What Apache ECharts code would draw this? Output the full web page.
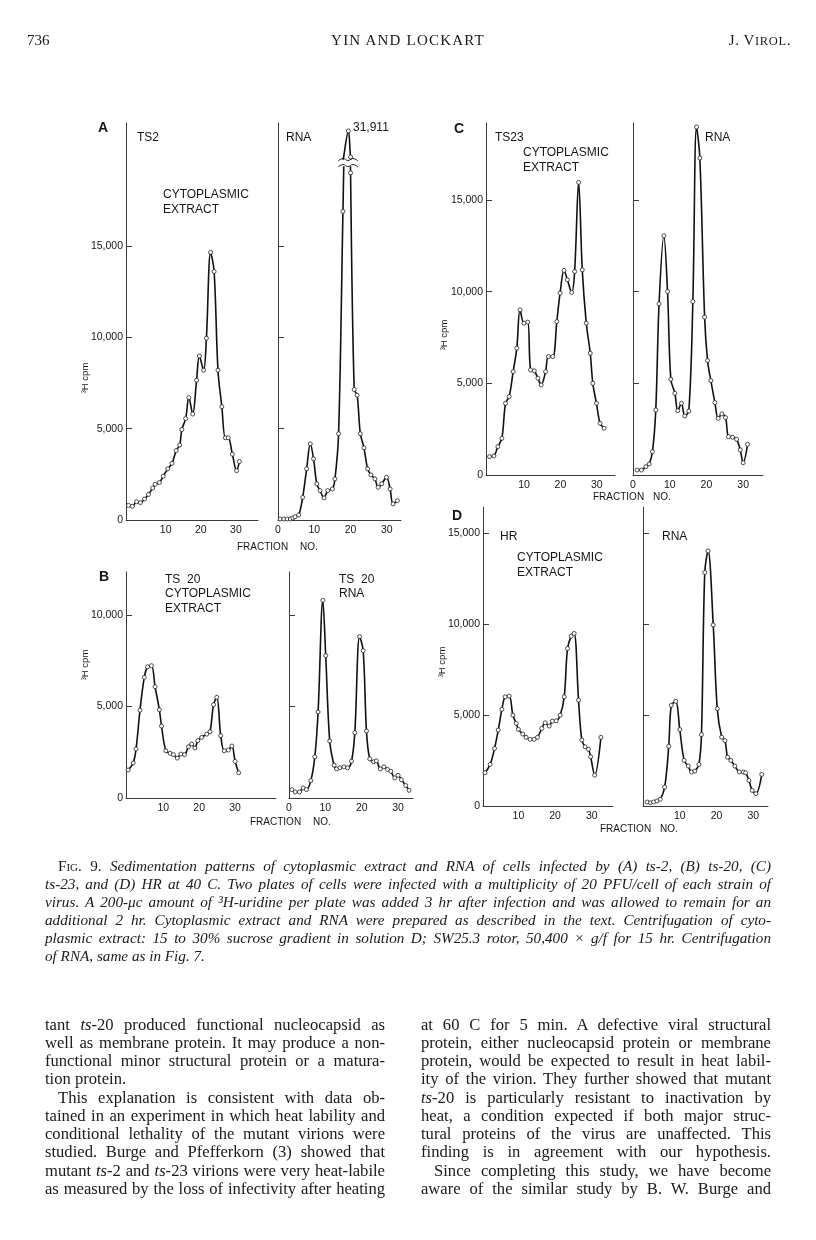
<!DOCTYPE html>
<html>
<head>
<meta charset="utf-8">
<title>Fig. 9 sedimentation patterns</title>
<script src="https://cdn.jsdelivr.net/npm/echarts@6/dist/echarts.min.js"></script>
<style>
  html, body { margin: 0; padding: 0; background: #fff; overflow: hidden; }
  #page { position: relative; width: 816px; height: 1240px; }
  #chart { position: absolute; left: 0; top: 0; width: 816px; height: 1240px; }
  .ln { position: absolute; height: 18px; line-height: 18px; white-space: nowrap;
        font-family: 'Liberation Serif', 'Times New Roman', serif; color: #1a1a1a; }
  .j { text-align: justify; text-align-last: justify; }
  .cap { font-size: 15.2px; font-style: italic; }
  .body { font-size: 16.6px; }
  .hd { font-size: 15px; }
  .sc { font-style: normal; font-variant: small-caps; }
</style>
</head>
<body>
<div id="page">
  <div id="chart"></div>

  <!-- running head -->
  <div class="ln hd" style="left:27px;top:31px;">736</div>
  <div class="ln hd" style="left:325px;top:31px;width:166px;text-align:center;letter-spacing:1.2px;">YIN AND LOCKART</div>
  <div class="ln hd" style="left:700px;top:31px;width:91px;text-align:right;letter-spacing:0.6px;">J. V<span style="font-size:12.5px">IROL</span>.</div>

  <!-- legend -->
  <div class="ln cap j" style="left:58px;top:857px;width:713px;"><span class="sc">Fig. 9.</span> Sedimentation patterns of cytoplasmic extract and RNA of cells infected by (A) ts-2, (B) ts-20, (C)</div>
  <div class="ln cap j" style="left:45px;top:875px;width:726px;">ts-23, and (D) HR at 40 C. Two plates of cells were infected with a multiplicity of 20 PFU/cell of each strain of</div>
  <div class="ln cap j" style="left:45px;top:893px;width:726px;">virus. A 200-μc amount of ³H-uridine per plate was added 3 hr after infection and was allowed to remain for an</div>
  <div class="ln cap j" style="left:45px;top:911px;width:726px;">additional 2 hr. Cytoplasmic extract and RNA were prepared as described in the text. Centrifugation of cyto-</div>
  <div class="ln cap j" style="left:45px;top:929px;width:726px;">plasmic extract: 15 to 30% sucrose gradient in solution D; SW25.3 rotor, 50,400 × g/f for 15 hr. Centrifugation</div>
  <div class="ln cap" style="left:45px;top:947px;">of RNA, same as in Fig. 7.</div>

  <!-- text, left column -->
  <div class="ln body j" style="left:45px;top:1016px;width:340px;">tant <i>ts</i>-20 produced functional nucleocapsid as</div>
  <div class="ln body j" style="left:45px;top:1034px;width:340px;">well as membrane protein. It may produce a non-</div>
  <div class="ln body j" style="left:45px;top:1052px;width:340px;">functional minor structural protein or a matura-</div>
  <div class="ln body" style="left:45px;top:1070px;">tion protein.</div>
  <div class="ln body j" style="left:58px;top:1089px;width:327px;">This explanation is consistent with data ob-</div>
  <div class="ln body j" style="left:45px;top:1107px;width:340px;">tained in an experiment in which heat lability and</div>
  <div class="ln body j" style="left:45px;top:1125px;width:340px;">conditional lethality of the mutant virions were</div>
  <div class="ln body j" style="left:45px;top:1143px;width:340px;">studied. Burge and Pfefferkorn (3) showed that</div>
  <div class="ln body j" style="left:45px;top:1162px;width:340px;">mutant <i>ts</i>-2 and <i>ts</i>-23 virions were very heat-labile</div>
  <div class="ln body j" style="left:45px;top:1180px;width:340px;">as measured by the loss of infectivity after heating</div>

  <!-- text, right column -->
  <div class="ln body j" style="left:421px;top:1016px;width:350px;">at 60 C for 5 min. A defective viral structural</div>
  <div class="ln body j" style="left:421px;top:1034px;width:350px;">protein, either nucleocapsid protein or membrane</div>
  <div class="ln body j" style="left:421px;top:1052px;width:350px;">protein, would be expected to result in heat labil-</div>
  <div class="ln body j" style="left:421px;top:1070px;width:350px;">ity of the virion. They further showed that mutant</div>
  <div class="ln body j" style="left:421px;top:1089px;width:350px;"><i>ts</i>-20 is particularly resistant to inactivation by</div>
  <div class="ln body j" style="left:421px;top:1107px;width:350px;">heat, a condition expected if both major struc-</div>
  <div class="ln body j" style="left:421px;top:1125px;width:350px;">tural proteins of the virus are unaffected. This</div>
  <div class="ln body j" style="left:421px;top:1143px;width:350px;">finding is in agreement with our hypothesis.</div>
  <div class="ln body j" style="left:434px;top:1162px;width:337px;">Since completing this study, we have become</div>
  <div class="ln body j" style="left:421px;top:1180px;width:350px;">aware of the similar study by B. W. Burge and</div>
</div>

<script>
// ---- data: [fraction no., 3H cpm] ----
// (A) ts-2
var tsTwoCyto = [[-0.6,800],[0.5,750],[1.7,1000],[2.8,950],[4.0,1150],[5.1,1400],[6.3,1750],[7.0,1950],
  [8.2,2050],[9.3,2400],[10.6,2800],[11.8,3100],[13.0,3800],[14.0,4100],[14.6,4950],[15.7,5550],[16.6,6700],
  [17.7,5800],[18.8,7650],[19.6,8970],[20.8,8200],[21.6,9950],[22.8,14650],[23.8,13600],[24.9,8200],
  [26.0,6200],[27.0,4500],[27.8,4500],[29.0,3600],[30.2,2700],[31.0,3200]];
var tsTwoRna = [[0.6,55],[1.6,55],[2.5,55],[3.4,55],[4.1,110],[4.7,180],[5.7,275],[6.8,1240],[7.9,2800],
  [8.9,4170],[9.8,3350],[10.7,1980],[11.6,1610],[12.7,1210],[13.7,1610],[15.0,1700],[15.7,2250],[16.7,4720],
  [17.9,16890],[19.4,31911],[20.0,19000],[21.0,7140],[21.8,6830],[22.7,4720],[23.7,3950],[24.7,2800],
  [25.6,2470],[26.7,2250],[27.6,1790],[28.6,1980],[29.9,2340],[30.9,1700],[31.7,880],[32.9,1060]];
// (B) ts-20
var tsTwentyCyto = [[0.2,1530],[1.6,1910],[2.4,2680],[3.5,4800],[4.7,6590],[5.6,7170],[6.7,7230],[7.7,6080],
  [8.9,4820],[9.5,3930],[10.7,2580],[11.9,2440],[12.8,2370],[13.9,2180],[14.9,2400],[15.9,2370],[17.0,2800],
  [17.9,2950],[18.8,2730],[19.6,3130],[20.7,3310],[22.1,3490],[23.0,3620],[24.0,5100],[24.9,5500],[26.0,3400],
  [27.0,2580],[28.1,2620],[29.1,2840],[30.0,2000],[31.0,1380]];
var tsTwentyRna = [[0.8,460],[1.7,330],[2.9,330],[3.9,550],[4.8,460],[6.0,950],[7.1,2250],[8.0,4700],
  [9.3,10800],[10.1,7780],[11.2,3110],[12.4,1790],[13.1,1590],[14.0,1650],[15.1,1700],[16.1,1650],[17.2,2010],
  [18.1,3570],[19.4,8820],[20.4,8050],[21.3,3660],[22.2,2140],[23.3,1980],[24.0,2030],[25.1,1590],[26.1,1700],
  [27.1,1560],[28.0,1460],[29.1,1100],[30.0,1240],[30.9,1000],[32.1,680],[33.0,420]];
// (C) ts-23
var tsTwentyThreeCyto = [[0.5,1000],[1.7,1040],[2.8,1550],[3.9,2000],[4.9,3910],[5.9,4280],[7.0,5640],
  [8.0,6920],[8.9,9010],[10.0,8280],[11.0,8340],[11.8,5730],[12.8,5680],[13.8,5280],[14.7,4910],[15.9,5640],
  [16.7,6460],[17.9,6460],[19.0,8370],[19.9,9920],[21.0,11160],[21.9,10650],[23.1,9960],[23.9,11100],
  [25.0,15960],[26.0,11190],[27.1,8280],[28.2,6640],[28.9,5000],[29.9,3910],[30.9,2820],[32.0,2550]];
var tsTwentyThreeRna = [[1.1,270],[2.3,270],[3.5,455],[4.4,600],[5.3,1270],[6.2,3550],[7.1,9340],[8.4,13050],
  [9.4,10010],[10.3,5220],[11.4,4460],[12.2,3510],[13.2,3910],[14.1,3220],[15.2,3490],[16.3,9460],[17.3,18980],
  [18.2,17290],[19.5,8610],[20.3,6240],[21.2,5150],[22.3,3950],[23.2,3090],[24.2,3330],[25.2,3130],[26.0,2090],
  [27.1,2060],[28.2,1950],[29.2,1370],[30.0,670],[31.2,1670]];
// (D) HR
var hrCyto = [[0.9,1830],[2.3,2290],[3.5,3170],[4.5,4180],[5.5,5320],[6.4,6010],[7.5,6050],[8.5,5000],
  [9.4,4550],[10.0,4220],[11.2,3960],[12.1,3780],[13.2,3670],[14.3,3670],[15.2,3780],[16.4,4270],[17.3,4580],
  [18.4,4400],[19.3,4670],[20.3,4690],[21.4,5000],[22.5,6010],[23.4,8670],[24.4,9350],[25.2,9500],[26.4,5830],
  [27.3,3630],[28.2,3260],[29.1,3120],[29.7,2710],[30.8,1700],[32.5,3780]];
var hrRna = [[1.1,220],[2.0,180],[2.9,220],[3.8,275],[4.7,370],[5.9,1040],[7.0,3290],[7.7,5540],[8.9,5760],
  [10.0,4210],[11.2,2510],[12.3,2200],[13.2,1870],[14.1,1920],[15.2,2290],[15.9,3930],[16.8,12860],[17.7,14040],
  [19.1,9970],[20.2,5360],[21.4,3790],[22.3,3600],[23.0,2690],[23.9,2510],[25.0,2200],[26.2,1880],[27.3,1870],
  [27.9,1830],[28.8,1410],[29.7,860],[30.7,680],[32.3,1740]];

// tick values
var fracTicks = [10, 20, 30];
var fracTicksZero = [0, 10, 20, 30];
var cpmTicksTall = [0, 5000, 10000, 15000];
var cpmTicksShort = [0, 5000, 10000];
var rnaPeakLabel = '31,911';

// ---- layout (pixels) and axis ranges of every panel ----
var FONT = "'Liberation Sans', Arial, sans-serif";
var INK = '#161616';
var AXIS = '#3a3a3a';

var panels = [
  { l: 126, r: 258, t: 123, b: 520, xmin: -1.3, xmax: 36.3, ymin: 0, ymax: 21730, data: tsTwoCyto,
    xl: fracTicks, yl: cpmTicksTall },
  { l: 278, r: 401, t: 123, b: 520, xmin: 0, xmax: 33.9, ymin: 0, ymax: 21730, data: null,
    xl: fracTicksZero, yt: [5000, 10000, 15000] },
  { l: 126, r: 276, t: 572, b: 798, xmin: -0.4, xmax: 41.4, ymin: 0, ymax: 12350, data: tsTwentyCyto,
    xl: fracTicks, yl: cpmTicksShort },
  { l: 289, r: 413, t: 572, b: 798, xmin: 0, xmax: 34.1, ymin: 0, ymax: 12350, data: tsTwentyRna,
    xl: fracTicksZero, yt: [5000, 10000] },
  { l: 486, r: 615, t: 123, b: 475, xmin: -0.47, xmax: 35.0, ymin: 0, ymax: 19200, data: tsTwentyThreeCyto,
    xl: fracTicks, yl: cpmTicksTall },
  { l: 633, r: 763, t: 123, b: 475, xmin: 0, xmax: 35.4, ymin: 0, ymax: 19200, data: tsTwentyThreeRna,
    xl: fracTicksZero, yt: [5000, 10000, 15000] },
  { l: 483, r: 613, t: 507, b: 806, xmin: 0.35, xmax: 35.8, ymin: 0, ymax: 16460, data: hrCyto,
    xl: fracTicks, yl: cpmTicksTall },
  { l: 643, r: 768, t: 507, b: 806, xmin: 0, xmax: 34.0, ymin: 0, ymax: 16460, data: hrRna,
    xl: fracTicks, yt: [5000, 10000, 15000] },
  // (A) RNA is drawn twice: below the axis break, and the peak top above it
  { l: 278, r: 401, t: 167, b: 520, xmin: 0, xmax: 33.9, ymin: 0, ymax: 19320, data: tsTwoRna, hidden: true },
  { l: 278, r: 401, t: 122, b: 159, xmin: 0, xmax: 33.9, ymin: 18000, ymax: 36380, data: tsTwoRna, hidden: true }
];

function cpmFmt(v) { return v === 0 ? '0' : echarts.format.addCommas(v); }

var grids = [], xAxes = [], yAxes = [], series = [];
panels.forEach(function (p, i) {
  grids.push({ left: p.l, top: p.t, width: p.r - p.l, height: p.b - p.t, containLabel: false });
  xAxes.push({
    gridIndex: i, type: 'value', min: p.xmin, max: p.xmax, show: !p.hidden,
    axisLine: { onZero: false, lineStyle: { color: AXIS, width: 1 } },
    axisTick: { show: false },
    splitLine: { show: false },
    axisLabel: { show: !!p.xl, customValues: p.xl, margin: 5, color: INK, fontFamily: FONT, fontSize: 10.5 }
  });
  yAxes.push({
    gridIndex: i, type: 'value', min: p.ymin, max: p.ymax, show: !p.hidden,
    axisLine: { onZero: false, lineStyle: { color: AXIS, width: 1 } },
    axisTick: { show: true, inside: true, length: 6, customValues: p.yl || p.yt,
                lineStyle: { color: AXIS, width: 1 } },
    splitLine: { show: false },
    axisLabel: { show: !!p.yl, customValues: p.yl, margin: 3, color: INK, fontFamily: FONT, fontSize: 10.5,
                 formatter: cpmFmt }
  });
  if (p.data) {
    series.push({
      type: 'line', xAxisIndex: i, yAxisIndex: i, data: p.data,
      smooth: 0.35, clip: true, symbol: 'circle', symbolSize: 4, showAllSymbol: true,
      lineStyle: { color: '#111', width: 1.6 },
      itemStyle: { color: '#fff', borderColor: '#222', borderWidth: 0.8 },
      emphasis: { disabled: true }, silent: true
    });
  }
});

// ---- lettering inside the figure ----
function label(x, y, text, size, weight, align) {
  return { type: 'text', x: x, y: y, silent: true,
    style: { text: text, fill: INK, font: (weight || 'normal') + ' ' + size + 'px ' + FONT,
             textAlign: align || 'left', textVerticalAlign: 'middle' } };
}
function yName(x, y) {
  var t = label(x, y, '³H cpm', 9.5, 'normal', 'center');
  t.rotation = Math.PI / 2;
  return t;
}
var graphics = [
  label(103, 128, 'A', 14, 'bold', 'center'),
  label(104, 577, 'B', 14, 'bold', 'center'),
  label(459, 129, 'C', 14, 'bold', 'center'),
  label(457, 516, 'D', 14, 'bold', 'center'),

  label(137, 138, 'TS2', 12),
  label(163, 195, 'CYTOPLASMIC', 12),
  label(163, 210, 'EXTRACT', 12),
  label(286, 138, 'RNA', 12),
  label(353, 128, rnaPeakLabel, 12),
  label(237, 547, 'FRACTION', 10), label(300, 547, 'NO.', 10),

  label(165, 580, 'TS  20', 12),
  label(165, 594, 'CYTOPLASMIC', 12),
  label(165, 609, 'EXTRACT', 12),
  label(339, 580, 'TS  20', 12),
  label(339, 594, 'RNA', 12),
  label(250, 822, 'FRACTION', 10), label(313, 822, 'NO.', 10),

  label(495, 138, 'TS23', 12),
  label(523, 153, 'CYTOPLASMIC', 12),
  label(523, 168, 'EXTRACT', 12),
  label(705, 138, 'RNA', 12),
  label(593, 497, 'FRACTION', 10), label(653, 497, 'NO.', 10),

  label(500, 537, 'HR', 12),
  label(517, 558, 'CYTOPLASMIC', 12),
  label(517, 573, 'EXTRACT', 12),
  label(662, 537, 'RNA', 12),
  label(600, 829, 'FRACTION', 10), label(660, 829, 'NO.', 10),

  yName(85, 378), yName(85, 665), yName(444, 335), yName(442, 662),

  // axis-break marks across the (A) RNA peak
  { type: 'polyline', silent: true, shape: { points: [[338, 161], [343, 158.5], [348, 160.5], [353, 158.5], [358, 161]], smooth: 0.5 },
    style: { stroke: '#222', lineWidth: 1, fill: null } },
  { type: 'polyline', silent: true, shape: { points: [[338, 167], [343, 164.5], [348, 166.5], [353, 164.5], [358, 167]], smooth: 0.5 },
    style: { stroke: '#222', lineWidth: 1, fill: null } }
];

var chart = echarts.init(document.getElementById('chart'), null, { renderer: 'canvas' });
chart.setOption({
  animation: false,
  backgroundColor: '#fff',
  grid: grids,
  xAxis: xAxes,
  yAxis: yAxes,
  series: series,
  graphic: graphics
});

// squeeze any justified line that runs wider than its column
Array.prototype.forEach.call(document.querySelectorAll('.j'), function (el) {
  var ls = 0;
  while (el.scrollWidth > el.clientWidth + 1 && ls > -1.5) {
    ls -= 0.05;
    el.style.letterSpacing = ls.toFixed(2) + 'px';
  }
});
</script>
</body>
</html>
